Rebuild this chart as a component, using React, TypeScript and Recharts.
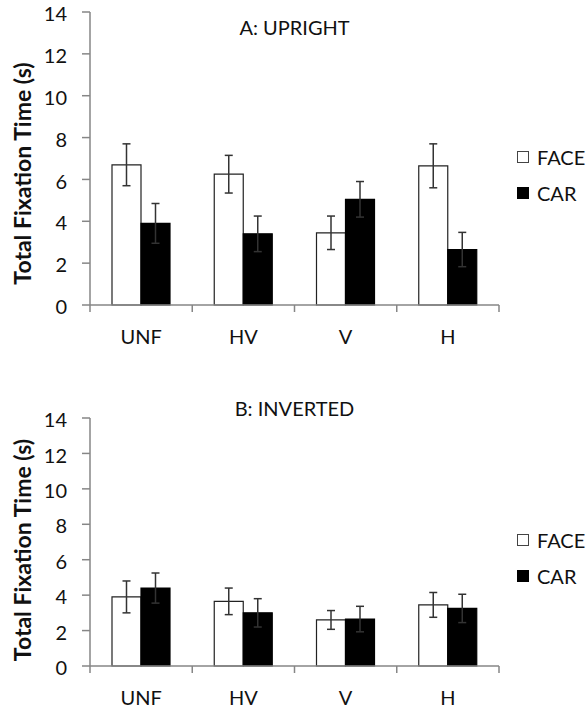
import { BarChart, Bar, XAxis, YAxis, ErrorBar } from 'recharts';

const categories = ['UNF', 'HV', 'V', 'H'];
const seriesNames = ['FACE', 'CAR'];
const yTicks = [0, 2, 4, 6, 8, 10, 12, 14];

// A: upright
const uprightFace = [6.7, 6.25, 3.45, 6.65];
const uprightFaceErr = [1.0, 0.9, 0.8, 1.05];
const uprightCar = [3.9, 3.4, 5.05, 2.65];
const uprightCarErr = [0.95, 0.85, 0.85, 0.82];

// B: inverted
const invertedFace = [3.9, 3.65, 2.6, 3.45];
const invertedFaceErr = [0.9, 0.75, 0.53, 0.7];
const invertedCar = [4.4, 3.0, 2.65, 3.25];
const invertedCarErr = [0.85, 0.8, 0.72, 0.8];

const FONT = 'Lato, "Open Sans", sans-serif';
const AXIS = '#868686';
const INK = '#111';
const LABEL_GAP = 25;

function buildRows(face: number[], faceErr: number[], car: number[], carErr: number[]) {
  return categories.map((name, i) => ({
    name,
    face: face[i],
    faceErr: faceErr[i],
    car: car[i],
    carErr: carErr[i],
  }));
}

// Category label plus Excel-style tick marks on the category boundaries.
function CategoryTick(props: any) {
  const { x, y, payload, width, visibleTicksCount } = props;
  const half = payload.offset ?? width / visibleTicksCount / 2;
  const axisY = y - LABEL_GAP;
  const last = payload.index === visibleTicksCount - 1;
  return (
    <g>
      <line x1={x - half} x2={x - half} y1={axisY} y2={axisY + 7} stroke={AXIS} strokeWidth={1.5} />
      {last && <line x1={x + half} x2={x + half} y1={axisY} y2={axisY + 7} stroke={AXIS} strokeWidth={1.5} />}
      <text x={x} y={y} dy="0.71em" textAnchor="middle" fill={INK} fontSize={20} fontFamily={FONT}>
        {payload.value}
      </text>
    </g>
  );
}

interface PanelProps {
  title: string;
  rows: ReturnType<typeof buildRows>;
  top: number;
  height: number;
  marginTop: number;
  axisHeight: number;
  marginBottom: number;
  titleY: number;
  legendY: number;
  labelShift: number;
}

function Panel({ title, rows, top, height, marginTop, axisHeight, marginBottom, titleY, legendY, labelShift }: PanelProps) {
  return (
    <div style={{ position: 'absolute', left: 0, top, width: 587, height }}>
      <BarChart
        width={587}
        height={height}
        data={rows}
        margin={{ top: marginTop, right: 88, left: 0, bottom: marginBottom }}
        barGap={0}
        style={{ overflow: 'visible' }}
      >
        <XAxis
          dataKey="name"
          stroke={AXIS}
          strokeWidth={1.5}
          tickLine={false}
          tickSize={0}
          tickMargin={LABEL_GAP}
          height={axisHeight}
          interval={0}
          tick={<CategoryTick />}
        />
        <YAxis
          domain={[0, 14]}
          ticks={yTicks}
          interval={0}
          width={90}
          tickSize={8}
          tickMargin={15}
          stroke={AXIS}
          strokeWidth={1.5}
          tick={{ fill: INK, fontSize: 20, fontFamily: FONT, dy: 2 }}
          label={{
            value: 'Total Fixation Time (s)',
            angle: -90,
            position: 'insideLeft',
            offset: 23,
            dy: labelShift,
            style: { textAnchor: 'middle', fill: INK, fontSize: 23, fontWeight: 700, fontFamily: FONT },
          }}
        />
        <Bar dataKey="face" name="FACE" fill="#fff" stroke="#222" strokeWidth={1.2} barSize={29} isAnimationActive={false}>
          <ErrorBar dataKey="faceErr" width={4} stroke="#333" strokeWidth={1.5} direction="y" />
        </Bar>
        <Bar dataKey="car" name="CAR" fill="#000" stroke="#000" strokeWidth={1.2} barSize={29} isAnimationActive={false}>
          <ErrorBar dataKey="carErr" width={4} stroke="#333" strokeWidth={1.5} direction="y" />
        </Bar>
      </BarChart>
      <div
        style={{
          position: 'absolute',
          left: 90,
          width: 409,
          top: titleY - 12,
          lineHeight: '24px',
          textAlign: 'center',
          fontFamily: FONT,
          fontSize: 20,
          color: INK,
        }}
      >
        {title}
      </div>
      <div style={{ position: 'absolute', left: 517, top: legendY, fontFamily: FONT, fontSize: 20, color: INK }}>
        {seriesNames.map((s, i) => (
          <div key={s} style={{ display: 'flex', alignItems: 'center', height: 36 }}>
            <span
              style={{
                display: 'inline-block',
                width: 12,
                height: 12,
                boxSizing: 'border-box',
                border: `1.5px solid ${i === 0 ? '#444' : '#000'}`,
                background: i === 0 ? '#fff' : '#000',
                marginRight: 8,
              }}
            />
            <span>{s}</span>
          </div>
        ))}
      </div>
    </div>
  );
}

export default function App() {
  const upright = buildRows(uprightFace, uprightFaceErr, uprightCar, uprightCarErr);
  const inverted = buildRows(invertedFace, invertedFaceErr, invertedCar, invertedCarErr);
  return (
    <div style={{ position: 'absolute', left: 0, top: 0, width: 587, height: 711, background: '#fff' }}>
      <Panel
        title="A: UPRIGHT"
        rows={upright}
        top={0}
        height={370}
        marginTop={12}
        axisHeight={50}
        marginBottom={15}
        titleY={27}
        legendY={139}
        labelShift={15}
      />
      <Panel
        title="B: INVERTED"
        rows={inverted}
        top={370}
        height={341}
        marginTop={48}
        axisHeight={40}
        marginBottom={5}
        titleY={38}
        legendY={152}
        labelShift={8}
      />
    </div>
  );
}
